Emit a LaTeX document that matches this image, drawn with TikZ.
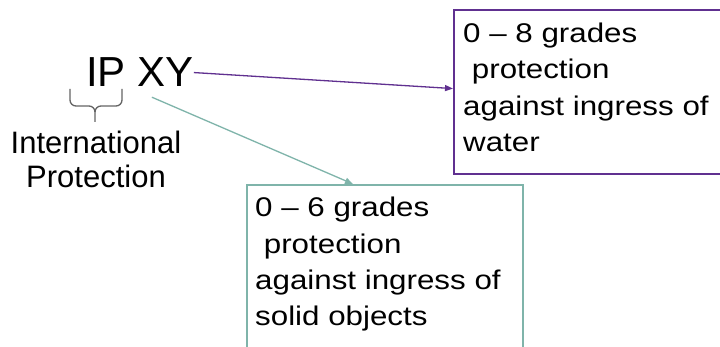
\documentclass[tikz,border=0pt]{standalone}
\usepackage{fontspec}
\setmainfont{Liberation Sans}
\newfontfamily\boxfont[FakeStretch=1.16]{Liberation Sans}
\usetikzlibrary{arrows.meta,calc}
\definecolor{ppl}{RGB}{96,48,144}
\definecolor{tealc}{RGB}{127,180,170}
\definecolor{bracec}{RGB}{100,100,100}
\tikzset{
  boxtext/.style={inner sep=0pt, align=left, anchor=base west,
    font=\boxfont\fontsize{27}{36.5}\selectfont},
  wbox/.style={draw=ppl, line width=1.8pt, anchor=north west, inner sep=0pt,
    minimum width=269pt, minimum height=164pt},
  sbox/.style={draw=tealc, line width=1.8pt, anchor=north west, inner sep=0pt,
    minimum width=276pt, minimum height=190pt},
  conn/.style={line width=1.3pt, -{Triangle[length=8pt,width=6pt]}},
}
\begin{document}
\begin{tikzpicture}[x=1pt,y=1pt]
\useasboundingbox[fill=white] (0,0) rectangle (720,-347);
% boxes
\node[wbox] (water) at (453,-9) {};
\node[sbox] (solid) at (246,-184) {};
% box texts (base anchor = last line)
\node[boxtext] (wtext) at (463,-152) {0 – 8 grades\\ \ protection\\against ingress of\\water};
\node[boxtext] (stext) at (255,-326) {0 – 6 grades\\ \ protection\\against ingress of\\solid objects};
% main label
\node[inner sep=0pt, anchor=base west, font=\fontsize{42}{50}\selectfont] (ipxy) at (86,-87) {IP XY};
% brace
\draw[bracec, line width=1.3pt, line join=round]
  (70,-89) -- (70,-100) to[out=-90,in=180] (76,-106) -- (89,-106)
  to[out=0,in=90] (95,-112) -- (95,-122);
\draw[bracec, line width=1.3pt, line join=round]
  (122,-89) -- (122,-100) to[out=-90,in=0] (116,-106) -- (101,-106)
  to[out=180,in=90] (95,-112);
\node[inner sep=0pt, align=center, anchor=base, font=\fontsize{31}{34}\selectfont] (ipname) at (96,-188) {International\\Protection};
% connectors
\coordinate (wend) at ($(water.north west)!0.48!(water.south west)$);
\coordinate (tstart) at ($(ipxy.south)+(12,-10)$);
\coordinate (send) at ($(solid.north west)+(107,0)$);
\draw[conn, ppl] (ipxy.east) -- (wend);
\draw[conn, tealc] (tstart) -- (send);
\end{tikzpicture}
\end{document}
